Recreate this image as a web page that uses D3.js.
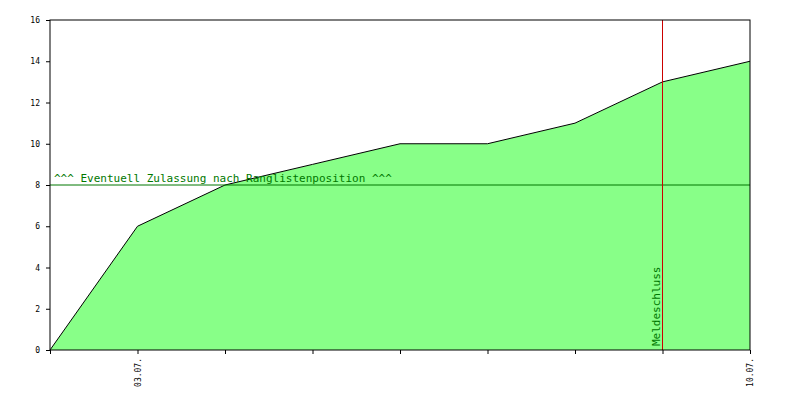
<!DOCTYPE html><html><head><script src="https://cdn.jsdelivr.net/npm/d3@7"></script>
<style>body{margin:0;background:#fff}</style></head><body><svg id="c" width="800" height="400"></svg>
<script>
const days=["02.07.","03.07.","04.07.","05.07.","06.07.","07.07.","08.07.","09.07.","10.07."];
const counts=[0,6,8,9,10,10,11,13,14];
const labeledDays=["03.07.","10.07."];
const yTicks=[0,2,4,6,8,10,12,14,16];
const threshold=8, thresholdLabel="^^^ Eventuell Zulassung nach Ranglistenposition ^^^";
const deadlineDay="09.07.", deadlineLabel="Meldeschluss";
const svg=d3.select("#c");
const L=50,R=750,T=20,B=350;
const x=d3.scalePoint().domain(days).range([L,R]);
const y=d3.scaleLinear().domain([0,16]).range([B,T]);
const f="DejaVu Sans Mono, monospace";
svg.append("path").datum(counts).attr("fill","#88ff88")
 .attr("d",d3.area().x((d,i)=>x(days[i])).y0(B).y1(d=>y(d)));
svg.append("path").datum(counts).attr("fill","none").attr("stroke","#000")
 .attr("d",d3.line().x((d,i)=>x(days[i])).y(d=>y(d)));
svg.append("line").attr("x1",L).attr("x2",R).attr("y1",y(threshold)).attr("y2",y(threshold)).attr("stroke","#007700");
svg.append("text").attr("x",L+4).attr("y",y(threshold)-3).attr("fill","#007700").attr("font-family",f).attr("font-size",11).text(thresholdLabel);
svg.append("line").attr("x1",x(deadlineDay)).attr("x2",x(deadlineDay)).attr("y1",T).attr("y2",B).attr("stroke","#cc0000");
svg.append("text").attr("transform",`translate(${x(deadlineDay)-3},${B-4}) rotate(-90)`).attr("fill","#007700").attr("font-family",f).attr("font-size",11).text(deadlineLabel);
svg.append("rect").attr("x",L).attr("y",T).attr("width",R-L).attr("height",B-T).attr("fill","none").attr("stroke","#000");
const ya=svg.append("g").attr("transform",`translate(${L},0)`).call(d3.axisLeft(y).tickValues(yTicks).tickSize(4).tickPadding(6));
const xa=svg.append("g").attr("transform",`translate(0,${B})`).call(d3.axisBottom(x).tickSize(4).tickFormat(d=>labeledDays.includes(d)?d:""));
[ya,xa].forEach(g=>{g.select(".domain").remove();g.selectAll("text").attr("font-family",f).attr("font-size",8).attr("fill","#000");});
xa.selectAll("text").attr("transform","rotate(-90)").attr("text-anchor","end").attr("x",-8).attr("y",0).attr("dy","0.35em");
</script></body></html>
